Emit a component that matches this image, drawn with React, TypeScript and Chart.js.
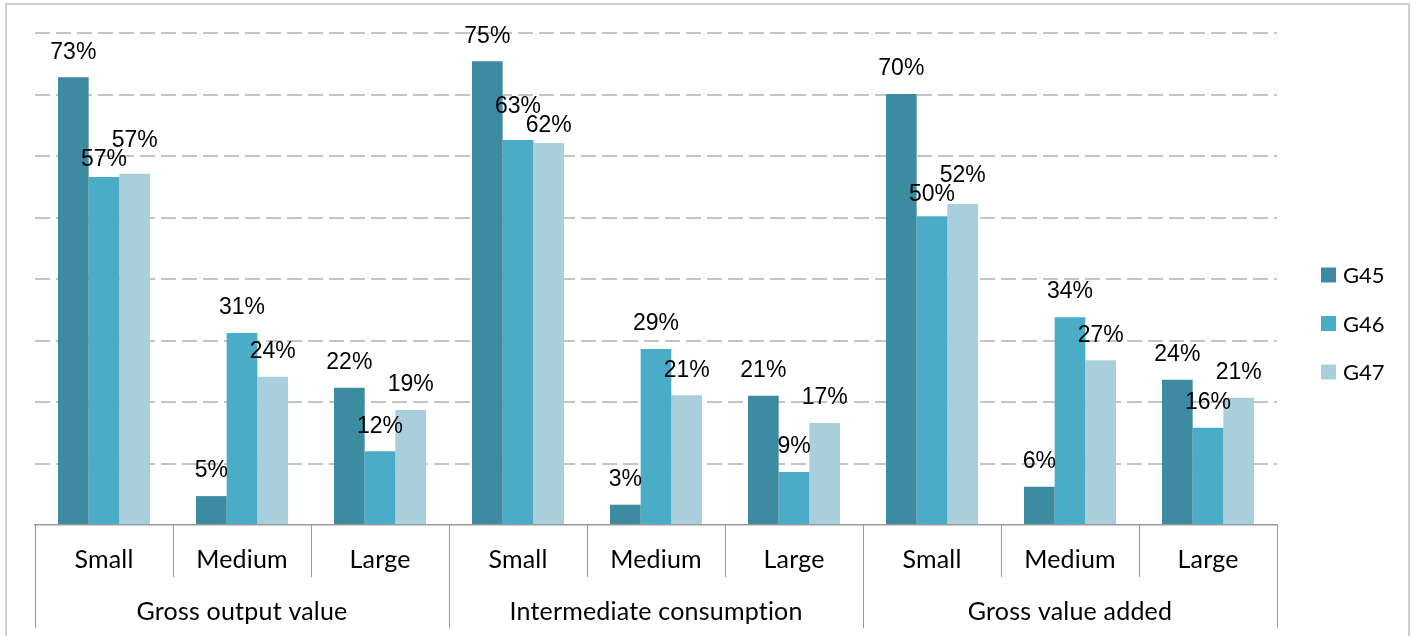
import React, { useEffect, useRef } from 'react';
import { Chart, registerables } from 'chart.js';

Chart.register(...registerables);

const sizeLabels = ['Small', 'Medium', 'Large', 'Small', 'Medium', 'Large', 'Small', 'Medium', 'Large'];
const groupLabels = ['Gross output value', 'Intermediate consumption', 'Gross value added'];
const seriesNames = ['G45', 'G46', 'G47'];
const g45 = [72.8, 4.7, 22.3, 75.4, 3.3, 21.0, 70.1, 6.2, 23.6];
const g46 = [56.6, 31.2, 12.0, 62.6, 28.6, 8.6, 50.2, 33.8, 15.8];
const g47 = [57.1, 24.1, 18.7, 62.1, 21.1, 16.6, 52.2, 26.8, 20.7];
const colors = ['#3c8ba1', '#4aacc6', '#a9cfdd'];

const W = 1418;
const H = 636;

const overlayPlugin = {
  id: 'overlay',
  afterDraw(chart: any) {
    const ctx = chart.ctx as any;
    const x = chart.scales.x;
    const area = chart.chartArea;
    const axisY = area.bottom;
    ctx.save();
    // category separators
    ctx.strokeStyle = '#9a9a9a';
    ctx.lineWidth = 1;
    for (let i = 0; i <= sizeLabels.length; i++) {
      const px = Math.round(x.getPixelForValue(i - 0.5)) + 0.5;
      const end = i % 3 === 0 ? 628 : 577;
      ctx.beginPath();
      ctx.moveTo(px, axisY);
      ctx.lineTo(px, end);
      ctx.stroke();
    }
    ctx.fillStyle = '#000';
    ctx.textAlign = 'center';
    ctx.textBaseline = 'middle';
    try { ctx.textRendering = 'optimizeSpeed'; } catch (e) {}
    try { ctx.letterSpacing = '0.2px'; } catch (e) {}
    ctx.font = '25px Lato';
    sizeLabels.forEach((l, i) => {
      ctx.fillText(l, x.getPixelForValue(i), 560);
    });
    groupLabels.forEach((l, g) => {
      const cx = (x.getPixelForValue(g * 3 - 0.5) + x.getPixelForValue(g * 3 + 2.5)) / 2;
      ctx.fillText(l, cx, 612);
    });
    try { ctx.letterSpacing = '0px'; } catch (e) {}
    // data labels with simple overlap avoidance
    ctx.font = '23px "Liberation Sans"';
    const metas = chart.data.datasets.map((_: any, di: number) => chart.getDatasetMeta(di));
    for (let i = 0; i < sizeLabels.length; i++) {
      const ys = metas.map((m: any) => m.data[i].y - 25);
      for (let j = 0; j < ys.length - 1; j++) {
        const d = ys[j + 1] - ys[j];
        if (Math.abs(d) < 19) {
          const mid = (ys[j] + ys[j + 1]) / 2;
          const sign = d >= 0 ? 1 : -1;
          ys[j] = mid - (sign * 19) / 2;
          ys[j + 1] = mid + (sign * 19) / 2;
        }
      }
      metas.forEach((m: any, di: number) => {
        const v = chart.data.datasets[di].data[i] as number;
        ctx.fillText(Math.round(v) + '%', m.data[i].x, ys[di]);
      });
    }
    // legend
    ctx.textAlign = 'left';
    ctx.font = '22px Lato';
    seriesNames.forEach((n, i) => {
      const cy = 275 + i * 48.5;
      ctx.fillStyle = colors[i];
      ctx.fillRect(1321, cy - 7.5, 15, 15);
      ctx.fillStyle = '#000';
      ctx.fillText(n, 1343, cy + 1);
    });
    ctx.restore();
  },
};

export default function App() {
  const ref = useRef<HTMLCanvasElement>(null);
  useEffect(() => {
    const chart = new Chart(ref.current as HTMLCanvasElement, {
      type: 'bar',
      data: {
        labels: sizeLabels,
        datasets: [
          { label: seriesNames[0], data: g45, backgroundColor: colors[0], categoryPercentage: 0.667, barPercentage: 1 },
          { label: seriesNames[1], data: g46, backgroundColor: colors[1], categoryPercentage: 0.667, barPercentage: 1 },
          { label: seriesNames[2], data: g47, backgroundColor: colors[2], categoryPercentage: 0.667, barPercentage: 1 },
        ],
      },
      options: {
        animation: false,
        responsive: false,
        maintainAspectRatio: false,
        layout: { padding: { left: 35, top: 33, right: W - 1277, bottom: H - 525 } },
        plugins: { legend: { display: false }, tooltip: { enabled: false } },
        scales: {
          x: {
            grid: { display: false, drawTicks: false },
            ticks: { display: false },
            border: { display: true, color: '#9a9a9a', width: 1.5 },
          },
          y: {
            min: 0,
            max: 80,
            ticks: { display: false, stepSize: 10 },
            border: { display: false, dash: [15, 6] },
            grid: {
              drawTicks: false,
              lineWidth: 2,
              color: (c: any) => (c.tick && c.tick.value === 0 ? 'rgba(0,0,0,0)' : '#c4c4c4'),
            },
          },
        },
      },
      plugins: [overlayPlugin],
    });
    return () => chart.destroy();
  }, []);
  return (
    <div style={{ position: 'fixed', left: 0, top: 0, width: W, height: H, overflow: 'hidden', background: '#fff' }}>
      <div style={{ position: 'absolute', left: 5, top: 3, width: 1405, height: 700, border: '2px solid #cfcfcf', boxSizing: 'border-box' }} />
      <canvas ref={ref} width={W} height={H} style={{ position: 'absolute', left: 0, top: 0, display: 'block' }} />
    </div>
  );
}
